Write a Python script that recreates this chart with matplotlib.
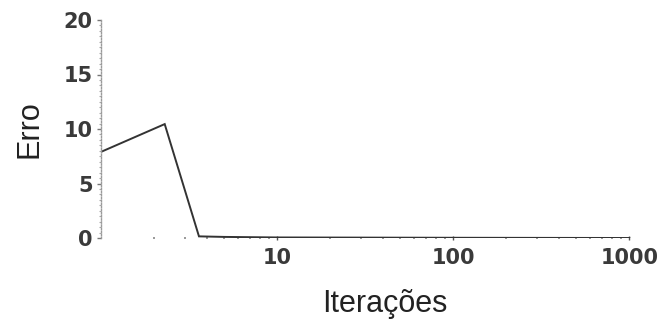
import matplotlib.pyplot as plt
from matplotlib.ticker import FixedLocator, NullFormatter

# data
iteracoes = [1, 2.3, 3.6, 5, 10, 100, 1000]
erro = [7.9, 10.45, 0.15, 0.1, 0.05, 0.02, 0.0]

x_ticks = [10, 100, 1000]
x_labels = ["10", "100", "1000"]
y_ticks = [0, 5, 10, 15, 20]

plt.rcParams['font.family'] = ['Liberation Sans', 'DejaVu Sans']

fig = plt.figure(figsize=(6.64, 3.22), dpi=100)
ax = fig.add_axes([101 / 664, 1 - 238 / 322, 539 / 664, 218 / 322])

ax.plot(iteracoes, erro, color='#333333', linewidth=1.4, solid_joinstyle='miter')

ax.set_xscale('log')
ax.set_xlim(1, 1150)
ax.set_ylim(0, 20)

ax.xaxis.set_major_locator(FixedLocator(x_ticks))
ax.set_xticklabels(x_labels)
minors = [m * d for d in (1, 10, 100) for m in range(2, 10)]
ax.xaxis.set_minor_locator(FixedLocator(minors))
ax.xaxis.set_minor_formatter(NullFormatter())

ax.set_yticks(y_ticks)
ax.yaxis.set_minor_locator(FixedLocator([i * 0.5 for i in range(41)]))

for s in ('top', 'right', 'bottom'):
    ax.spines[s].set_visible(False)
ax.spines['left'].set_color('#9a9a9a')
ax.spines['left'].set_linestyle((0, (1, 1.2)))
ax.spines['left'].set_linewidth(1.0)

ax.tick_params(axis='x', which='major', length=3, width=1, color='#555555',
               labelsize=15, labelcolor='#3a3a3a', pad=6, direction='inout')
ax.tick_params(axis='x', which='minor', length=2, width=1.2, color='#888888', direction='inout')
ax.tick_params(axis='y', which='major', length=3, width=1, color='#777777',
               labelsize=15, labelcolor='#3a3a3a', pad=3)
ax.tick_params(axis='y', which='minor', length=1.5, width=0.8, color='#aaaaaa')

for lab in ax.get_xticklabels() + ax.get_yticklabels():
    lab.set_family('DejaVu Sans')
    lab.set_fontweight('bold')

ax.set_ylabel('Erro', fontsize=22, color='#222222')
ax.set_xlabel('Iterações', fontsize=22, color='#222222')
ax.yaxis.set_label_coords(-0.104, 0.5)
ax.xaxis.set_label_coords(0.527, -0.232)

fig.savefig('out.png', dpi=100, facecolor='white')
